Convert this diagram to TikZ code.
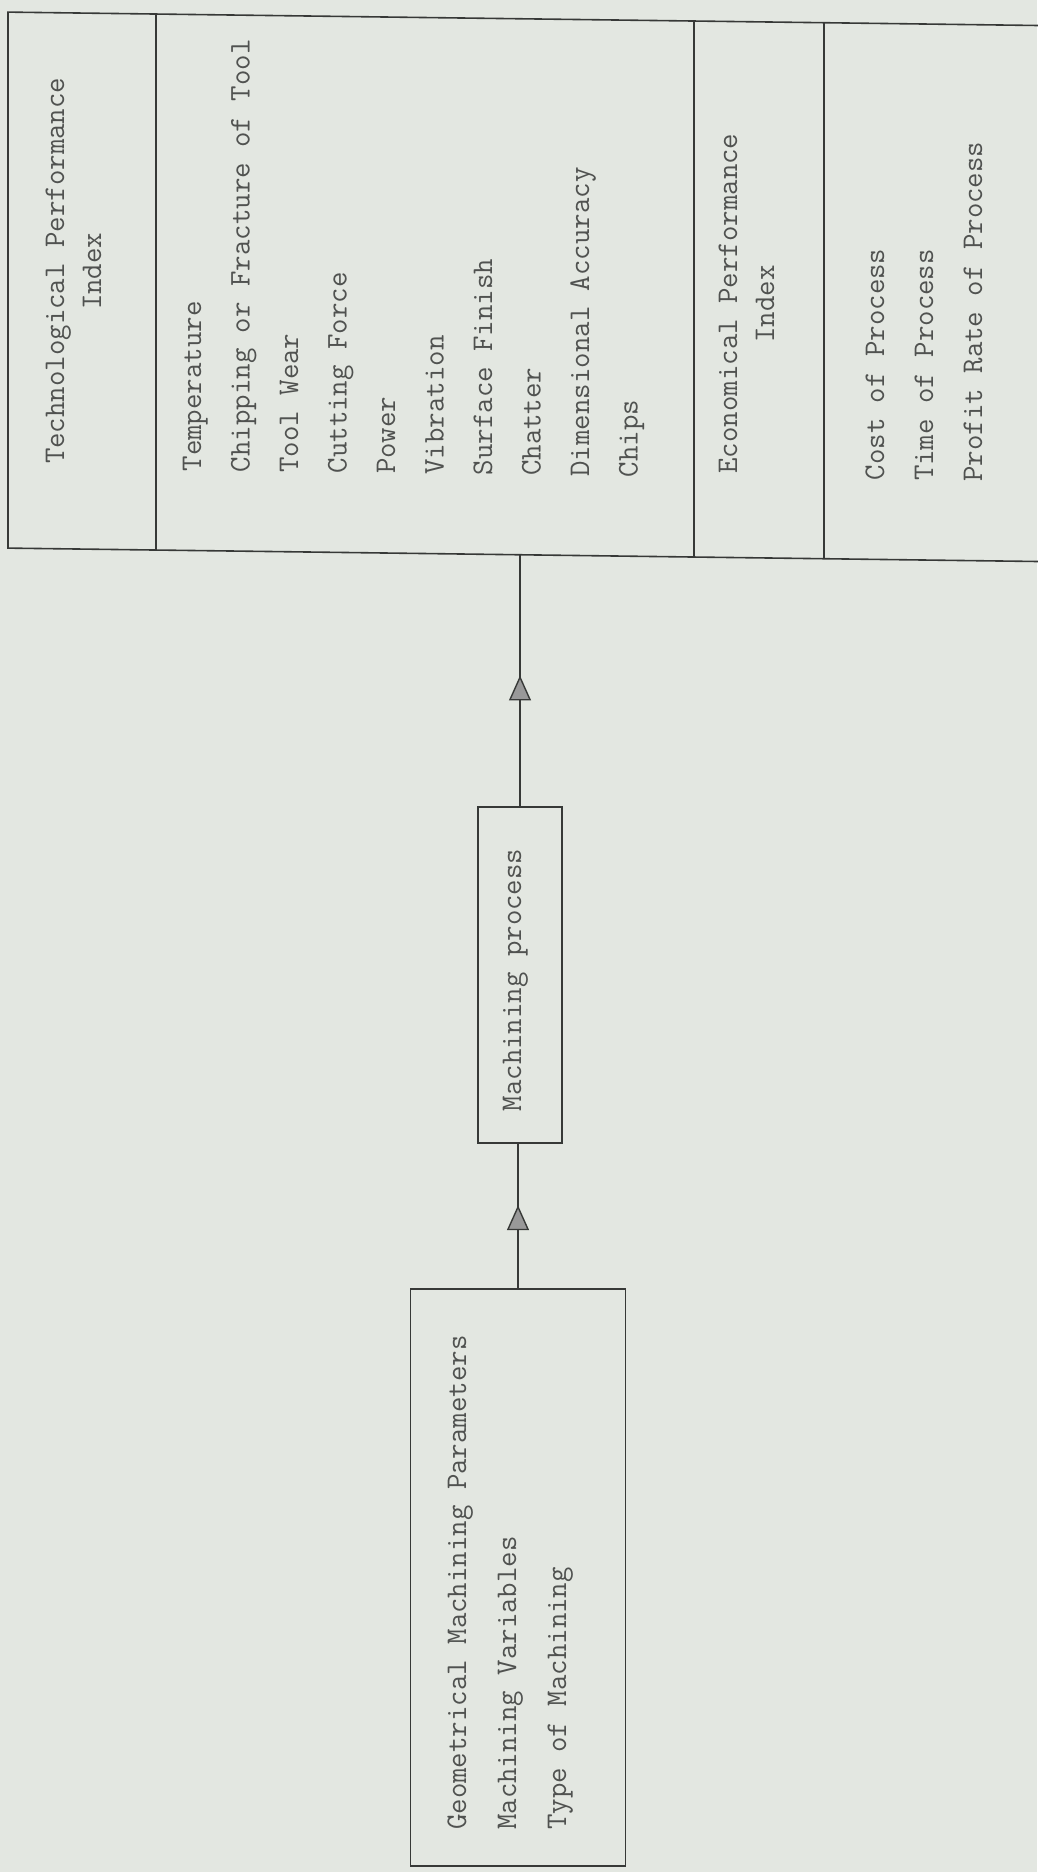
\documentclass[tikz,border=0pt]{standalone}
\usepackage{fontspec}
\usetikzlibrary{arrows.meta,decorations.markings}

\definecolor{paper}{RGB}{227,231,225}
\definecolor{ink}{RGB}{55,57,55}
\definecolor{type}{RGB}{80,82,80}

\tikzset{
  frame/.style={draw=ink, line width=1.6pt, inner sep=0pt},
  rule/.style={draw=ink, line width=1.6pt},
  txt/.style={rotate=90, inner sep=0pt, text=type,
    font=\ttfamily\fontsize{30}{36}\selectfont},
  item/.style={txt, anchor=base west},
  head/.style={txt, anchor=base},
  flow/.style={draw=ink, line width=1.4pt, postaction={decorate},
    decoration={markings, mark=at position #1 with
      {\arrow{Triangle[length=25pt,width=22pt,fill=black!40]}}}}
}

\begin{document}
\begin{tikzpicture}[x=1pt,y=-1pt]
  % page and paper tone
  \useasboundingbox (0,0) rectangle (1037,1872);
  \fill[paper] (0,0) rectangle (1037,1872);

  % performance table, sheared a little downwards to the right;
  % it runs off the right edge of the sheet
  \begin{scope}[yslant=-0.013]
    \coordinate (tl) at (8,12);
    \coordinate (tr) at (1045,12);
    \coordinate (bl) at (8,548);
    \coordinate (br) at (1045,548);
    \coordinate (tb) at (520,548);
    \draw[rule] (tr) -- (tl) -- (bl) -- (br);
    \foreach \n/\x in {d1/156, d2/694, d3/824} {
      \coordinate (\n t) at (\x,12);
      \coordinate (\n b) at (\x,548);
      \draw[rule] (\n t) -- (\n b);
    }

    % column headings
    \node[head] (tpi1) at (64,270) {Technological Performance};
    \node[head] (tpi2) at (101,270) {Index};
    \node[head] (epi1) at (737,294) {Economical Performance};
    \node[head] (epi2) at (774,294) {Index};

    % technological indicators
    \foreach \i/\t in {1/Temperature, 2/Chipping or Fracture of Tool,
        3/Tool Wear, 4/Cutting Force, 5/Power, 6/Vibration,
        7/Surface Finish, 8/Chatter, 9/Dimensional Accuracy, 10/Chips}
      \node[item] (tech\i) at ({201+48.5*(\i-1)},469) {\t};

    % economical indicators
    \foreach \i/\t in {1/Cost of Process, 2/Time of Process,
        3/Profit Rate of Process}
      \node[item] (econ\i) at ({884+49*(\i-1)},469) {\t};
  \end{scope}

  % machining process box
  \node[frame, minimum width=84pt, minimum height=336pt] (mp) at (520,975) {};
  \node[head] (mplab) at (521,980) {Machining process};

  % input box
  \node[frame, minimum width=215pt, minimum height=577pt] (inp) at (518,1577.5) {};
  \foreach \i/\t in {1/Geometrical Machining Parameters,
      2/Machining Variables, 3/Type of Machining}
    \node[item] (in\i) at ({466+50*(\i-1)},1830) {\t};

  % connectors
  \draw[flow=0.575] (inp.north) -- (inp.north |- mp.south);
  \draw[flow=0.52] (mp.north) -- (mp.north |- tb);
\end{tikzpicture}
\end{document}
